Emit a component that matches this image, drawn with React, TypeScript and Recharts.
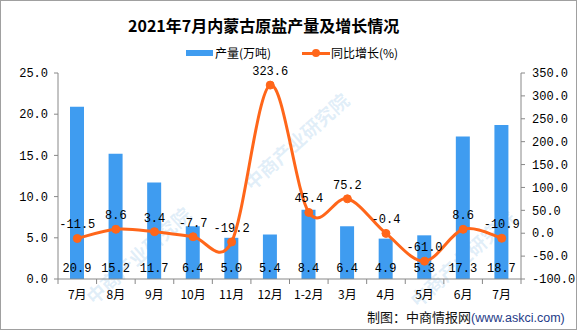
import React from 'react';
import { ComposedChart, Bar, Line, XAxis, YAxis, LabelList } from 'recharts';

const categories = ['7月', '8月', '9月', '10月', '11月', '12月', '1-2月', '3月', '4月', '5月', '6月', '7月'];
const output = [20.9, 15.2, 11.7, 6.4, 5.0, 5.4, 8.4, 6.4, 4.9, 5.3, 17.3, 18.7];
const growth = [-11.5, 8.6, 3.4, -7.7, -19.2, 323.6, 45.4, 75.2, -0.4, -61.0, 8.6, -10.9];
const leftTicks = [0, 5, 10, 15, 20, 25];
const rightTicks = [-100, -50, 0, 50, 100, 150, 200, 250, 300, 350];

const data = categories.map((c, i) => ({ name: c, output: output[i], growth: growth[i] }));

const BAR = '#3F9CF0';
const ORANGE = '#FF661A';
const AXIS = '#888888';
const NUM_FONT = '"Liberation Mono", "DejaVu Sans Mono", monospace';
const CJK = '"Noto Sans CJK SC", sans-serif';

function smoothCurve(context: any) {
  let pts: number[][] = [];
  return {
    areaStart() {},
    areaEnd() {},
    lineStart() { pts = []; },
    point(x: number, y: number) { pts.push([+x, +y]); },
    lineEnd() {
      if (!pts.length) return;
      context.moveTo(pts[0][0], pts[0][1]);
      for (let i = 0; i < pts.length - 1; i++) {
        const p0 = pts[i - 1] || pts[i];
        const p1 = pts[i];
        const p2 = pts[i + 1];
        const p3 = pts[i + 2] || p2;
        context.bezierCurveTo(
          p1[0] + (p2[0] - p0[0]) / 6, p1[1] + (p2[1] - p0[1]) / 6,
          p2[0] - (p3[0] - p1[0]) / 6, p2[1] - (p3[1] - p1[1]) / 6,
          p2[0], p2[1]
        );
      }
    },
  };
}

const W = 577;
const H = 330;
const LEFT_W = 58;
const RIGHT_W = 56;
const BW = (W - LEFT_W - RIGHT_W) / categories.length;

const XTick = (props: any) => {
  const { x, y, payload, index } = props;
  const axisY = y - 7;
  const half = payload && payload.offset ? payload.offset : BW / 2;
  return (
    <g>
      <line x1={x - half} y1={axisY} x2={x - half} y2={axisY + 5} stroke={AXIS} />
      {index === categories.length - 1 && (
        <line x1={x + half} y1={axisY} x2={x + half} y2={axisY + 5} stroke={AXIS} />
      )}
      <text x={x} y={axisY + 20} textAnchor="middle" fontSize={12} fill="#000"
        fontFamily={CJK}>{payload.value}</text>
    </g>
  );
};

const watermarks = [
  { x: 296, y: 141 },
  { x: 138, y: 255 },
  { x: 462, y: 258 },
];

export default function App() {
  return (
    <div style={{ position: 'absolute', left: 0, top: 0, width: W, height: H, background: '#fff', overflow: 'hidden' }}>
      {watermarks.map((w, i) => (
        <div key={i} style={{
          position: 'absolute', left: w.x - 80, top: w.y - 12, width: 160, height: 24,
          textAlign: 'center', transform: 'rotate(-42deg)', fontSize: 19, fontWeight: 'bold',
          color: 'rgba(120,180,225,0.22)', fontFamily: CJK, lineHeight: '24px',
          whiteSpace: 'nowrap',
        }}>中商产业研究院</div>
      ))}
      <div style={{
        position: 'absolute', left: 128, top: 14, fontSize: 16, fontWeight: 'bold', color: '#000',
        fontFamily: CJK, lineHeight: '22px', whiteSpace: 'nowrap',
      }}>2021年7月内蒙古原盐产量及增长情况</div>
      <div style={{ position: 'absolute', left: 186, top: 50, width: 27, height: 6, background: BAR }} />
      <div style={{
        position: 'absolute', left: 215, top: 45, fontSize: 12, color: '#000',
        fontFamily: CJK, lineHeight: '16px', whiteSpace: 'nowrap',
      }}>产量(万吨)</div>
      <div style={{ position: 'absolute', left: 302, top: 51.5, width: 28, height: 3, background: ORANGE }} />
      <div style={{ position: 'absolute', left: 312, top: 49, width: 8, height: 8, borderRadius: 4, background: ORANGE }} />
      <div style={{
        position: 'absolute', left: 331, top: 45, fontSize: 12, color: '#000',
        fontFamily: CJK, lineHeight: '16px', whiteSpace: 'nowrap',
      }}>同比增长(%)</div>
      <div style={{
        position: 'absolute', left: 367, top: 309, fontSize: 13, whiteSpace: 'nowrap',
        fontFamily: CJK, lineHeight: '16px',
      }}>
        <span style={{ color: '#111' }}>制图：中商情报网</span>
        <span style={{ color: '#1F3C88', fontFamily: '"Liberation Sans", sans-serif', fontSize: 12.5 }}>(www.askci.com)</span>
      </div>
      <div style={{ position: 'absolute', left: 0, top: 0 }}>
        <ComposedChart width={W} height={H} data={data}
          margin={{ top: 73, right: 0, bottom: 21, left: 0 }}>
          <XAxis dataKey="name" height={30} axisLine={{ stroke: AXIS }} tickLine={false}
            tickSize={5} tickMargin={2} tick={<XTick />} interval={0} />
          <YAxis yAxisId="left" width={LEFT_W} domain={[0, 25]} ticks={leftTicks}
            tickFormatter={(v: number) => v.toFixed(1)} axisLine={{ stroke: AXIS }}
            tickLine={{ stroke: AXIS }} tickSize={4} tickMargin={6}
            tick={{ fontSize: 12, fill: '#000', fontFamily: NUM_FONT }} />
          <YAxis yAxisId="right" orientation="right" width={RIGHT_W} domain={[-100, 350]} ticks={rightTicks}
            tickFormatter={(v: number) => v.toFixed(1)} axisLine={{ stroke: AXIS }}
            tickLine={{ stroke: AXIS }} tickSize={4} tickMargin={7}
            tick={{ fontSize: 12, fill: '#000', fontFamily: NUM_FONT, textAnchor: 'start' }} />
          <Bar yAxisId="left" dataKey="output" fill={BAR} barSize={14} isAnimationActive={false}>
            <LabelList dataKey="output" position="insideBottom" offset={7}
              formatter={(v: number) => v.toFixed(1)}
              style={{ fontSize: 12, fill: '#000', fontFamily: NUM_FONT }} />
          </Bar>
          <Line yAxisId="right" dataKey="growth" type={smoothCurve as any} stroke={ORANGE} strokeWidth={3}
            dot={{ r: 4, fill: ORANGE, stroke: ORANGE, strokeWidth: 1 }} activeDot={false}
            isAnimationActive={false}>
            <LabelList dataKey="growth" position="top" offset={10}
              formatter={(v: number) => v.toFixed(1)}
              style={{ fontSize: 12, fill: '#000', fontFamily: NUM_FONT }} />
          </Line>
        </ComposedChart>
      </div>
      <div style={{ position: 'absolute', left: 0, top: 0, width: W, height: H, boxSizing: 'border-box', border: '1px solid #A0A0A0', pointerEvents: 'none' }} />
    </div>
  );
}
